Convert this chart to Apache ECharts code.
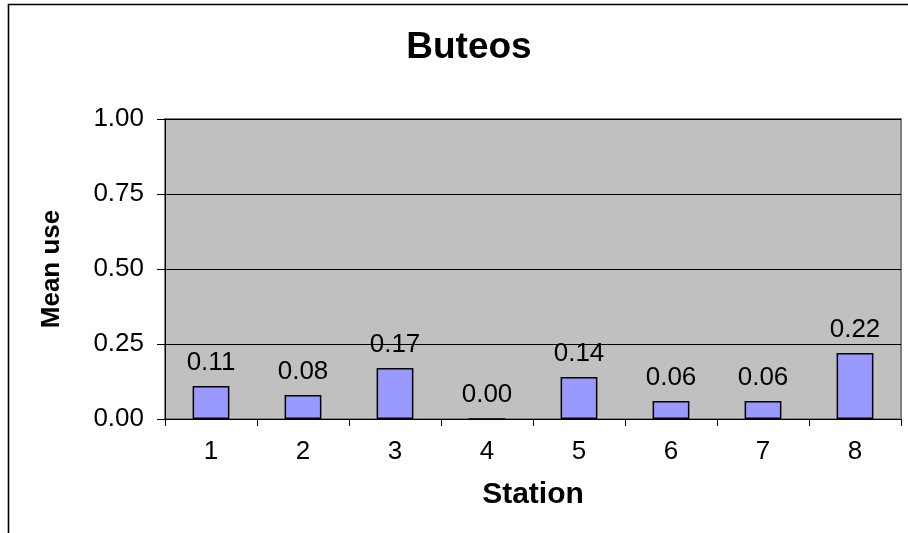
<!DOCTYPE html>
<html>
<head>
<meta charset="utf-8">
<script src="https://cdn.jsdelivr.net/npm/echarts@6/dist/echarts.min.js"></script>
<style>
  html, body { margin: 0; padding: 0; background: #ffffff; }
  #chart { width: 908px; height: 533px; }
</style>
</head>
<body>
<div id="chart"></div>
<script>
// Mean use per station
const stations = ['1', '2', '3', '4', '5', '6', '7', '8'];
const meanUse = [0.11, 0.08, 0.17, 0.00, 0.14, 0.06, 0.06, 0.22];
const yTicks = [0, 0.25, 0.5, 0.75, 1];

const FONT = '"Liberation Sans", Arial, sans-serif';

const chart = echarts.init(document.getElementById('chart'), null, { renderer: 'canvas' });

chart.setOption({
  animation: false,
  backgroundColor: '#ffffff',
  title: {
    text: 'Buteos',
    left: 464,
    textAlign: 'center',
    top: 24,
    textStyle: { fontFamily: FONT, fontSize: 37, fontWeight: 'bold', color: '#000000' }
  },
  graphic: [{
    type: 'rect',
    shape: { x: 8.5, y: 4.5, width: 1200, height: 1200 },
    style: { fill: 'none', stroke: '#000000', lineWidth: 1.6 },
    silent: true,
    z: 100
  }],
  grid: {
    left: 165,
    top: 119,
    right: 7,
    bottom: 114,
    show: true,
    backgroundColor: '#C0C0C0',
    borderColor: '#808080',
    borderWidth: 2
  },
  xAxis: {
    type: 'category',
    data: stations,
    name: 'Station',
    nameLocation: 'middle',
    nameGap: 61,
    nameTextStyle: { fontFamily: FONT, fontSize: 30, fontWeight: 'bold', color: '#000000' },
    axisLine: { show: true, lineStyle: { color: '#000000', width: 1 } },
    axisTick: { show: true, length: 7, alignWithLabel: false, lineStyle: { color: '#000000' } },
    axisLabel: { fontFamily: FONT, fontSize: 26, color: '#000000', margin: 20 },
    splitLine: { show: false }
  },
  yAxis: {
    type: 'value',
    min: yTicks[0],
    max: yTicks[yTicks.length - 1],
    interval: yTicks[1] - yTicks[0],
    name: 'Mean use',
    nameLocation: 'middle',
    nameGap: 100,
    nameRotate: 90,
    nameTextStyle: { fontFamily: FONT, fontSize: 26, fontWeight: 'bold', color: '#000000' },
    axisLine: { show: true, lineStyle: { color: '#000000', width: 1 } },
    axisTick: { show: true, length: 8, inside: false, lineStyle: { color: '#000000' } },
    axisLabel: {
      fontFamily: FONT, fontSize: 26, color: '#000000', margin: 21,
      formatter: v => v.toFixed(2)
    },
    splitLine: {
      show: true,
      lineStyle: { color: '#000000', width: 1 }
    }
  },
  series: [{
    type: 'bar',
    data: meanUse,
    barWidth: '40%',
    itemStyle: { color: '#9999FF', borderColor: '#000000', borderWidth: 1.5 },
    label: {
      show: true,
      position: 'top',
      distance: 10,
      fontFamily: FONT,
      fontSize: 26,
      color: '#000000',
      formatter: p => p.value.toFixed(2)
    }
  }]
});
</script>
</body>
</html>
